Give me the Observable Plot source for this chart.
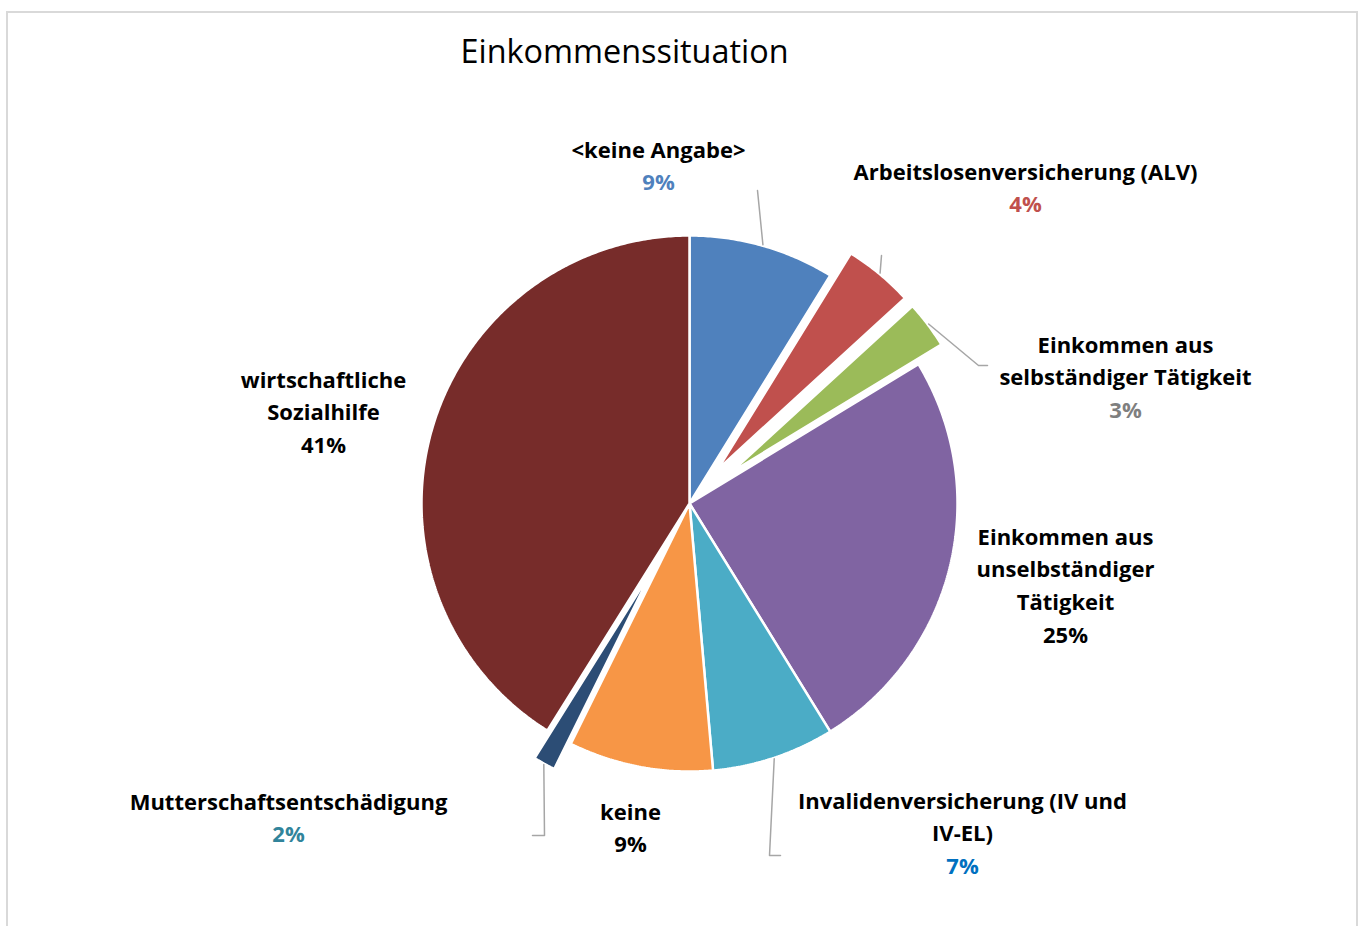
<!DOCTYPE html>
<html>
<head>
<meta charset="utf-8">
<script src="https://cdn.jsdelivr.net/npm/d3@7"></script>
<script src="https://cdn.jsdelivr.net/npm/@observablehq/plot@0.6"></script>
<style>
  html, body { margin: 0; padding: 0; background: #fff; overflow: hidden; }
  #wrap { position: relative; width: 1362px; height: 926px; }
  #frame { position: absolute; left: 6px; top: 11px; width: 1352px; height: 930px;
           border: 2px solid #d9d9d9; border-bottom: none; box-sizing: border-box; }
  #chart { position: absolute; left: 0; top: 0; }
</style>
</head>
<body>
<div id="wrap"><div id="frame"></div><div id="chart"></div></div>
<script>
// ---------- data ----------
const title = "Einkommenssituation";
const categories = [
  "<keine Angabe>",
  "Arbeitslosenversicherung (ALV)",
  "Einkommen aus selbständiger Tätigkeit",
  "Einkommen aus unselbständiger Tätigkeit",
  "Invalidenversicherung (IV und IV-EL)",
  "keine",
  "Mutterschaftsentschädigung",
  "wirtschaftliche Sozialhilfe"
];
const shares = [8.8, 4.4, 3.1, 24.9, 7.4, 8.7, 1.6, 41.1];
const labelLines = [
  ["<keine Angabe>"],
  ["Arbeitslosenversicherung (ALV)"],
  ["Einkommen aus", "selbständiger Tätigkeit"],
  ["Einkommen aus", "unselbständiger", "Tätigkeit"],
  ["Invalidenversicherung (IV und", "IV-EL)"],
  ["keine"],
  ["Mutterschaftsentschädigung"],
  ["wirtschaftliche", "Sozialhilfe"]
];

// ---------- styles / layout ----------
const sliceColors = ["#4F81BD", "#C0504D", "#9BBB59", "#8064A2", "#4BACC6", "#F79646", "#2C4D75", "#772C2A"];
const pctColors   = ["#4F81BD", "#C0504D", "#7F7F7F", "#000000", "#0070C0", "#000000", "#31849B", "#000000"];
const W = 1362, H = 926;
const cx = 689, cy = 503, R = 268;
// per-slice explosion (offset along bisector) and radius
const explode = [0, 44, 51, 0, 0, 0, 74, 0];
const radius  = [R, 254, 247, R, R, R, 224, R];
// label anchor: centre x, centre y of first line
const labelPos = [[658,150],[1025,172],[1125,345],[1065,537],[962,801],[630,812],[288,802],[323,380]];
const lineH = 32.7;
// leader lines: elbow/end points (start is on slice arc at mid-angle); null = no leader
const leaderEnds = [
  [[757,190]],
  [[881,255]],
  [[978,365],[987,365]],
  null,
  [[769,855],[780,855]],
  null,
  [[544,835],[532,835]],
  null
];
const fontFamily = "'Open Sans', Lato, sans-serif";

// ---------- geometry from data ----------
const arcs = d3.pie().sort(null).startAngle(0).endAngle(2*Math.PI)(shares);
const pt = (ax, ay, r, a) => ({x: ax + r*Math.sin(a), y: ay - r*Math.cos(a)});
const slices = arcs.map((a, i) => {
  const mid = (a.startAngle + a.endAngle)/2;
  const apex = pt(cx, cy, explode[i], mid);
  const pts = [apex];
  const n = Math.max(4, Math.ceil((a.endAngle - a.startAngle)/(Math.PI/360)));
  for (let k = 0; k <= n; k++) {
    const ang = a.startAngle + (a.endAngle - a.startAngle)*k/n;
    pts.push(pt(apex.x, apex.y, radius[i], ang));
  }
  return {pts, apex, mid, i};
});

const leaders = [];
slices.forEach(s => {
  const ends = leaderEnds[s.i];
  if (!ends) return;
  const start = pt(s.apex.x, s.apex.y, radius[s.i] + 1, s.mid);
  leaders.push([start, ...ends.map(([x,y]) => ({x, y}))]);
});

const texts = [];
labelLines.forEach((lines, i) => {
  const [lx, ly] = labelPos[i];
  lines.forEach((t, k) => texts.push({x: lx, y: ly + k*lineH, text: t, color: "#000000"}));
  texts.push({x: lx, y: ly + lines.length*lineH, text: Math.round(shares[i]) + "%", color: pctColors[i]});
});

const marks = [
  ...slices.map(s => Plot.line(s.pts, {x: "x", y: "y", fill: sliceColors[s.i], stroke: "white",
      strokeWidth: 2.5, strokeLinejoin: "miter", curve: "linear-closed"})),
  ...leaders.map(l => Plot.line(l, {x: "x", y: "y", stroke: "#A6A6A6", strokeWidth: 1.5})),
  Plot.text(texts, {x: "x", y: "y", text: "text", fill: "color", fontSize: 22, fontWeight: "bold",
      textAnchor: "middle", lineAnchor: "middle"}),
  Plot.text([title], {x: () => 624, y: () => 52, text: d => d, fontSize: 32.4, fill: "#000",
      textAnchor: "middle", lineAnchor: "middle"})
];

const chart = Plot.plot({
  width: W, height: H, margin: 0,
  x: {domain: [0, W], range: [0, W], axis: null},
  y: {domain: [0, H], range: [0, H], axis: null},
  style: {fontFamily, background: "transparent", overflow: "visible"},
  marks
});
document.getElementById("chart").appendChild(chart);
</script>
</body>
</html>
